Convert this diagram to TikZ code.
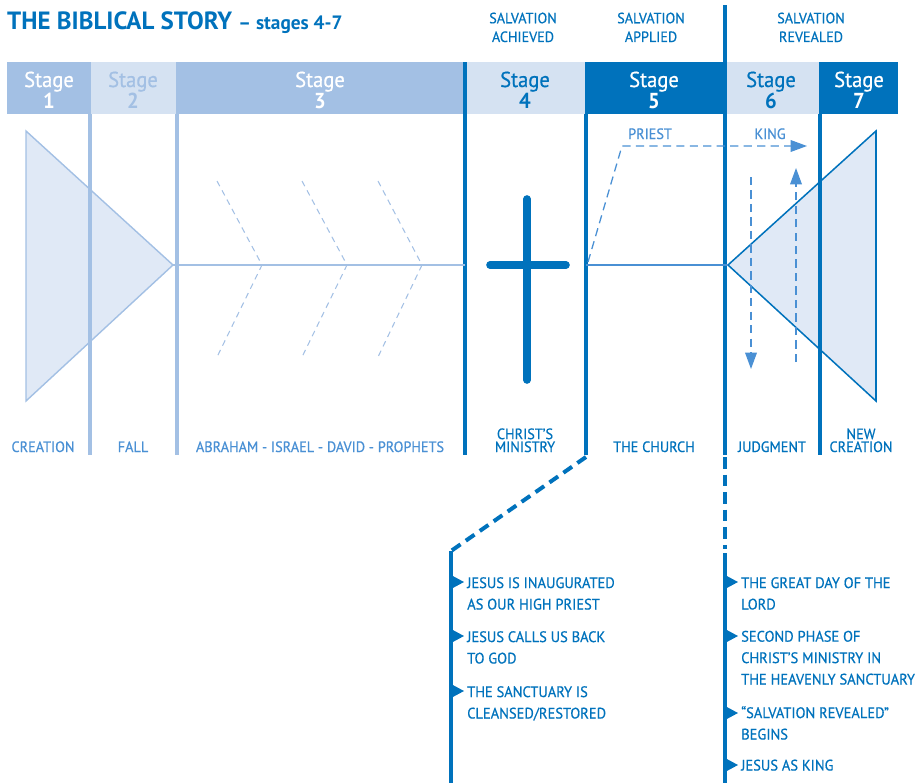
\documentclass[tikz,border=0pt]{standalone}
\usepackage{fontspec}
\setmainfont{PT Sans}[FakeStretch=0.95,UprightFeatures={FakeBold=0.6}]
\newfontfamily\titlefont{PT Sans}[Ligatures=TeX]
\usepackage{tikz}
\usetikzlibrary{arrows.meta,positioning,calc}
\definecolor{storyblue}{RGB}{0,114,188}
\definecolor{midblue}{RGB}{74,144,212}
\definecolor{paleblue}{RGB}{163,192,228}
\definecolor{lightfill}{RGB}{213,226,242}
\definecolor{trifill}{RGB}{224,233,246}

\begin{document}
\begin{tikzpicture}[x=0.03cm,y=-0.03cm,
  stagetext/.style={anchor=base,align=center,inner sep=0pt,font=\fontsize{18.5}{17.9}\selectfont},
  bottomlabel/.style={anchor=base,align=center,inner sep=0pt,font=\fontsize{12.8}{11}\selectfont},
  toplabel/.style={anchor=base,align=center,inner sep=0pt,text=storyblue,font=\fontsize{12.7}{16}\selectfont},
  bullettext/.style={anchor=base west,align=left,inner sep=0pt,text=storyblue,font=\fontsize{13}{18.3}\selectfont},
  lightdiv/.style={paleblue,line width=3.4pt},
  darkdiv/.style={storyblue,line width=3.2pt},
  chevron/.style={paleblue,line width=0.9pt,dash pattern=on 5pt off 4pt},
  kingarrow/.style={midblue,line width=1.1pt,dash pattern=on 7pt off 4.5pt,-{Triangle[length=14pt,width=10pt]}},
  timeline/.style={storyblue,line width=3.4pt}]
\useasboundingbox (0,0) rectangle (923,783);

% title
\node[anchor=base west,inner sep=0pt,text=storyblue,font=\titlefont\fontsize{21.3}{24}\selectfont\bfseries] (title) at (7,29)
  {THE BIBLICAL STORY \fontsize{16.5}{18}\selectfont -- stages 4-7};

% stage headers
\fill[paleblue] (7,62) rectangle (91,114);
\fill[lightfill] (91,62) rectangle (176,114);
\fill[paleblue] (176,62) rectangle (464,114);
\fill[lightfill] (466,62) rectangle (585,114);
\fill[storyblue] (585,62) rectangle (725,114);
\fill[lightfill] (725,62) rectangle (819,114);
\fill[storyblue] (819,62) rectangle (898,114);
\node[stagetext,text=white] (s1) at (49,108) {Stage\\\textbf{1}};
\node[stagetext,text=paleblue] (s2) at (133,108) {Stage\\\textbf{2}};
\node[stagetext,text=white] (s3) at (320,108) {Stage\\\textbf{3}};
\node[stagetext,text=storyblue] (s4) at (525,108) {Stage\\\textbf{4}};
\node[stagetext,text=white] (s5) at (654,108) {Stage\\\textbf{5}};
\node[stagetext,text=storyblue] (s6) at (771,108) {Stage\\\textbf{6}};
\node[stagetext,text=white] (s7) at (859,108) {Stage\\\textbf{7}};

% salvation labels
\node[toplabel] (achieved) at (523,42) {SALVATION\\ACHIEVED};
\node[toplabel] (applied) at (651,42) {SALVATION\\APPLIED};
\node[toplabel] (revealed) at (811,42) {SALVATION\\REVEALED};

% triangles
\draw[paleblue,line width=1.2pt,fill=trifill] (26,131) -- (26,401) -- (173,265) -- cycle;
\draw[storyblue,line width=1.3pt,fill=trifill] (876,131) -- (876,401) -- (728,265) -- cycle;

% dividers
\draw[lightdiv] (90,114) -- (90,455);
\draw[lightdiv] (177,114) -- (177,455);
\draw[darkdiv] (465,62) -- (465,455);
\draw[darkdiv] (586,114) -- (586,455);
\draw[darkdiv] (725,5) -- (725,455);
\draw[darkdiv] (820,114) -- (820,455);

% middle lines
\draw[paleblue,line width=1.2pt] (173,265) -- (465,265);
\draw[midblue,line width=1.2pt] (586,265) -- (728,265);

% chevrons
\draw[chevron] (217,181) -- (262,265) -- (217,357);
\draw[chevron] (302,181) -- (347,265) -- (302,357);
\draw[chevron] (378,181) -- (422,265) -- (378,357);

% cross
\draw[storyblue,line width=6.5pt,line cap=round] (527,199) -- (527,380);
\draw[storyblue,line width=6.5pt,line cap=round] (490,265) -- (566,265);

% priest and king
\coordinate (priestfoot) at (588,262);
\coordinate (priestcorner) at (622,146);
\coordinate (kingtip) at (807,146);
\draw[kingarrow] (priestfoot) -- (priestcorner) -- (kingtip);
\node[anchor=base,inner sep=0pt,text=midblue,font=\fontsize{12.8}{14}\selectfont] (priest) at (650,139) {PRIEST};
\node[anchor=base,inner sep=0pt,text=midblue,font=\fontsize{12.8}{14}\selectfont] (king) at (770,139) {KING};
\coordinate (downtop) at (751,177);
\coordinate (downtip) at (751,369);
\coordinate (upfoot) at (796,362);
\coordinate (uptip) at (796,168);
\draw[kingarrow] (downtop) -- (downtip);
\draw[kingarrow] (upfoot) -- (uptip);

% bottom labels
\node[bottomlabel,text=midblue] (creation) at (43,452) {CREATION};
\node[bottomlabel,text=midblue] (fall) at (133,452) {FALL};
\node[bottomlabel,text=midblue] (abraham) at (320,452) {ABRAHAM - ISRAEL - DAVID - PROPHETS};
\node[bottomlabel,text=storyblue] (ministry) at (525,452) {CHRIST'S\\MINISTRY};
\node[bottomlabel,text=storyblue] (church) at (654,452) {THE CHURCH};
\node[bottomlabel,text=storyblue] (judgment) at (772,452) {JUDGMENT};
\node[bottomlabel,text=storyblue] (newcreation) at (861,452) {NEW\\CREATION};

% zoom lines
\coordinate (churchfoot) at (586,457);
\coordinate (priestbend) at (451,551);
\coordinate (priestend) at (451,783);
\coordinate (judgefoot) at (725,457);
\coordinate (judgebend) at (725,549);
\coordinate (judgesolid) at (725,553);
\coordinate (judgeend) at (725,783);
\draw[timeline,dash pattern=on 9pt off 5.5pt] (churchfoot) -- (priestbend);
\draw[timeline] (priestbend) -- (priestend);
\draw[timeline,dash pattern=on 10pt off 5pt] (judgefoot) -- (judgebend);
\draw[timeline] (judgesolid) -- (judgeend);

% bullets left
\fill[storyblue] (451,575) -- (464,582) -- (451,589) -- cycle;
\fill[storyblue] (451,629) -- (464,636) -- (451,643) -- cycle;
\fill[storyblue] (451,684) -- (464,691) -- (451,698) -- cycle;
\node[bullettext] (inaugurated) at (467,609.5) {JESUS IS INAUGURATED\\AS OUR HIGH PRIEST};
\node[bullettext] (callsback) at (467,663.5) {JESUS CALLS US BACK\\TO GOD};
\node[bullettext] (cleansed) at (467,718.5) {THE SANCTUARY IS\\CLEANSED/RESTORED};

% bullets right
\fill[storyblue] (725,575) -- (738,582) -- (725,589) -- cycle;
\fill[storyblue] (725,629) -- (738,636) -- (725,643) -- cycle;
\fill[storyblue] (725,706) -- (738,713) -- (725,720) -- cycle;
\fill[storyblue] (725,758) -- (738,765) -- (725,772) -- cycle;
\node[bullettext] (greatday) at (741,609.5) {THE GREAT DAY OF THE\\LORD};
\node[bullettext] (secondphase) at (741,684.5) {SECOND PHASE OF\\CHRIST'S MINISTRY IN\\THE HEAVENLY SANCTUARY};
\node[bullettext] (revealedbegins) at (741,739.5) {``SALVATION REVEALED''\\BEGINS};
\node[bullettext] (asking) at (741,770.5) {JESUS AS KING};
\end{tikzpicture}
\end{document}
